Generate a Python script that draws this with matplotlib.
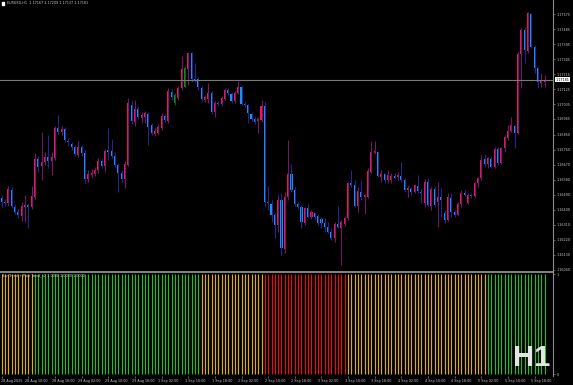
"""EURUSD H1 candles with a bar-trend histogram panel, MT4 dark style."""
import matplotlib
matplotlib.use("Agg")
import matplotlib.pyplot as plt
import numpy as np
import pandas as pd

# hourly bars, prices in points (1e-5)
open_pts = [
    116471, 116447, 116441, 116519, 116417, 116387, 116363, 116417, 116429, 116417,
    116477, 116705, 116663, 116687, 116717, 116693, 116711, 116891, 116867, 116885,
    116813, 116795, 116777, 116729, 116777, 116741, 116585, 116609, 116615, 116639,
    116693, 116663, 116759, 116753, 116723, 116669, 116621, 116585, 116669, 117029,
    116927, 117005, 116951, 116957, 116975, 116909, 116855, 116861, 116891, 116963,
    116933, 117107, 117089, 117071, 117131, 117251, 117245, 117341, 117185, 117185,
    117131, 117059, 117065, 117101, 116987, 117041, 117035, 117065, 117119, 117095,
    117053, 117101, 117137, 117035, 117029, 116975, 116945, 116933, 116939, 117023,
    116447, 116435, 116369, 116309, 116459, 116165, 116477, 116615, 116519, 116435,
    116417, 116321, 116411, 116357, 116381, 116363, 116345, 116321, 116297, 116267,
    116231, 116315, 116291, 116315, 116351, 116561, 116549, 116423, 116507, 116477,
    116477, 116627, 116741, 116747, 116597, 116615, 116579, 116579, 116603, 116597,
    116603, 116579, 116519, 116525, 116507, 116543, 116507, 116441, 116567, 116423,
    116525, 116447, 116477, 116381, 116339, 116471, 116387, 116369, 116435, 116501,
    116441, 116489, 116483, 116561, 116591, 116705, 116675, 116705, 116657, 116765,
    116681, 116771, 116831, 116873, 116903, 116861, 117335, 117479, 117353, 117575,
    117377, 117251, 117161, 117167,
]
high_pts = [
    116489, 116465, 116543, 116537, 116435, 116405, 116447, 116489, 116441, 116543,
    116741, 116723, 116867, 116747, 116849, 116747, 116903, 116969, 116903, 116897,
    116831, 116807, 116789, 116813, 116789, 116759, 116639, 116645, 116657, 116711,
    116705, 116765, 116891, 116825, 116747, 116681, 116639, 116693, 117071, 117059,
    117059, 117023, 116987, 116993, 116987, 116921, 116891, 116915, 116981, 116975,
    117131, 117125, 117101, 117143, 117323, 117263, 117347, 117347, 117281, 117197,
    117143, 117089, 117161, 117113, 117053, 117053, 117083, 117131, 117131, 117107,
    117113, 117173, 117149, 117047, 117035, 116987, 116957, 116957, 117059, 117047,
    116543, 116459, 116381, 116489, 116501, 116507, 116819, 116675, 116537, 116447,
    116429, 116417, 116435, 116399, 116387, 116375, 116357, 116351, 116327, 116291,
    116327, 116423, 116339, 116363, 116567, 116639, 116579, 116537, 116579, 116495,
    116651, 116813, 116813, 116753, 116639, 116621, 116639, 116621, 116621, 116627,
    116687, 116591, 116549, 116537, 116555, 116609, 116531, 116585, 116591, 116537,
    116543, 116567, 116531, 116399, 116501, 116501, 116399, 116447, 116519, 116519,
    116501, 116501, 116567, 116597, 116729, 116735, 116717, 116717, 116777, 116777,
    116777, 116849, 116909, 116957, 116909, 117347, 117491, 117497, 117587, 117581,
    117389, 117257, 117221, 117209,
]
low_pts = [
    116417, 116423, 116423, 116411, 116375, 116351, 116333, 116327, 116291, 116405,
    116465, 116627, 116579, 116669, 116651, 116609, 116699, 116849, 116849, 116807,
    116783, 116759, 116723, 116717, 116723, 116561, 116567, 116591, 116603, 116621,
    116651, 116627, 116699, 116711, 116657, 116507, 116567, 116531, 116663, 116915,
    116903, 116945, 116921, 116921, 116789, 116849, 116843, 116849, 116879, 116927,
    116921, 117059, 117029, 117059, 117119, 117131, 117149, 117167, 117167, 117119,
    117053, 117047, 117041, 116975, 116957, 117023, 117023, 117059, 117089, 117041,
    117041, 117095, 117029, 117017, 116921, 116933, 116915, 116861, 116927, 116417,
    116399, 116327, 116231, 116267, 116129, 116141, 116459, 116507, 116423, 116405,
    116291, 116309, 116351, 116345, 116339, 116309, 116291, 116267, 116261, 116219,
    116207, 116291, 116069, 116303, 116339, 116537, 116417, 116387, 116459, 116375,
    116471, 116621, 116735, 116597, 116567, 116561, 116561, 116561, 116585, 116579,
    116567, 116507, 116477, 116489, 116501, 116501, 116441, 116417, 116417, 116399,
    116417, 116297, 116357, 116321, 116333, 116357, 116357, 116363, 116417, 116483,
    116435, 116471, 116477, 116537, 116579, 116657, 116651, 116651, 116651, 116669,
    116675, 116747, 116819, 116867, 116771, 116855, 117131, 117281, 117341, 117371,
    117221, 117131, 117137, 117137,
]
close_pts = [
    116447, 116441, 116525, 116423, 116387, 116369, 116423, 116429, 116417, 116483,
    116705, 116657, 116687, 116717, 116693, 116717, 116891, 116867, 116885, 116819,
    116807, 116777, 116735, 116777, 116741, 116585, 116615, 116621, 116639, 116693,
    116663, 116753, 116747, 116723, 116669, 116621, 116585, 116675, 117041, 116933,
    117005, 116957, 116969, 116981, 116897, 116861, 116873, 116897, 116963, 116939,
    117113, 117077, 117041, 117131, 117245, 117137, 117341, 117185, 117179, 117137,
    117065, 117077, 117101, 116987, 117041, 117035, 117071, 117119, 117101, 117053,
    117101, 117137, 117035, 117029, 116981, 116945, 116927, 116945, 117023, 116447,
    116441, 116369, 116309, 116459, 116171, 116477, 116615, 116519, 116435, 116417,
    116327, 116411, 116357, 116387, 116357, 116321, 116321, 116297, 116267, 116231,
    116315, 116297, 116327, 116351, 116561, 116549, 116423, 116513, 116477, 116489,
    116633, 116747, 116753, 116603, 116615, 116579, 116609, 116603, 116591, 116609,
    116579, 116519, 116531, 116507, 116549, 116513, 116501, 116567, 116429, 116525,
    116429, 116477, 116459, 116339, 116477, 116387, 116369, 116435, 116501, 116489,
    116489, 116483, 116561, 116591, 116699, 116675, 116711, 116657, 116765, 116681,
    116771, 116837, 116873, 116909, 116861, 117335, 117479, 117359, 117581, 117377,
    117251, 117167, 117179, 117181,
]
green_bars = [52, 55]  # bars painted green on the chart

# indicator state per bar: G up, Y flat, R down
trend = "Y" * 10 + "G" * 50 + "Y" * 19 + "R" * 25 + "Y" * 42 + "G" * 18

price_ticks = [1.17575, 1.17485, 1.17395, 1.17305, 1.17215, 1.17125, 1.17035, 1.16945, 1.16850,
               1.16760, 1.16670, 1.16580, 1.16490, 1.16400, 1.16310, 1.16220, 1.16130, 1.16040]
bid = 1.17181
indicator_name = "Bar Trend + Past Trend_v2 1.0000 1.0000 1.0000"

times = pd.date_range("2025-08-28 02:00", "2025-08-29 23:00", freq="h").append(
    pd.date_range("2025-09-01 00:00", "2025-09-05 21:00", freq="h"))

W, H = 573, 385
FG = "#c8c8c8"
AXIS = "#8a8a8a"
BODY = {"bull": "#f5145f", "bear": "#1e90ff", "green": "#138a22"}
WICK = {"bull": "#6e1a66", "bear": "#1c2a8e", "green": "#0b5d12"}
TREND_COLORS = {"G": "#2cb82c", "Y": "#dcaa18", "R": "#e41010"}
SMALL = 2.4


def px(x0, y0, x1, y1):
    return [x0 / W, 1 - y1 / H, (x1 - x0) / W, (y1 - y0) / H]


def main() -> None:
    o, h, l, c = (np.array(a) / 1e5 for a in (open_pts, high_pts, low_pts, close_pts))
    x = np.arange(len(c))
    kind = np.where(np.isin(x, green_bars), "green", np.where(c >= o, "bull", "bear"))

    fig = plt.figure(figsize=(W / 100, H / 100), dpi=100, facecolor="black")
    ax = fig.add_axes(px(0, 0, 553, 271), facecolor="black")
    ax_i = fig.add_axes(px(0, 272, 553, 376), facecolor="black")

    # candles
    ax.vlines(x, l, h, colors=[WICK[k] for k in kind], linewidth=0.8)
    ax.bar(x, np.maximum(np.abs(c - o), 0.00007), bottom=np.minimum(o, c), width=0.62,
           color=[BODY[k] for k in kind], linewidth=0)
    ax.axhline(bid, color="#7a7a7a", lw=0.8)

    ax.set_xlim(-0.5, 165.5)
    ax.set_ylim(1.16033, 1.17659)
    ax.set_xticks([])
    ax.yaxis.tick_right()
    ax.set_yticks(price_ticks, [f"{v:.5f}" for v in price_ticks])
    ax.tick_params(axis="y", direction="out", length=1.5, width=0.5, color=AXIS,
                   labelsize=SMALL, labelcolor=FG, pad=1)
    for side in ("top", "bottom", "left"):
        ax.spines[side].set_visible(False)
    ax.spines["right"].set_color(AXIS)
    ax.spines["right"].set_linewidth(0.8)
    ax.text(1.004, bid, f"{bid:.5f}", transform=ax.get_yaxis_transform(), fontsize=SMALL,
            color="black", va="center", ha="left",
            bbox=dict(boxstyle="square,pad=0.2", fc="white", ec="none"))

    # trend histogram
    ax_i.vlines(x, 0, 1, colors=[TREND_COLORS[t] for t in trend], linewidth=0.85)
    ax_i.set_xlim(-0.5, 165.5)
    ax_i.set_ylim(-0.02, 1.02)
    ax_i.yaxis.tick_right()
    ax_i.set_yticks([0, 1], ["0", "1"])
    ax_i.tick_params(axis="y", direction="out", length=1.5, width=0.5, color=AXIS,
                     labelsize=SMALL, labelcolor=FG, pad=1)
    for side in ("bottom", "left"):
        ax_i.spines[side].set_visible(False)
    ax_i.spines["right"].set_color(AXIS)
    ax_i.spines["right"].set_linewidth(0.8)
    ax_i.spines["top"].set_color("#9a9a9a")
    ax_i.spines["top"].set_linewidth(1.2)
    ax_i.text(0.004, 0.985, indicator_name, transform=ax_i.transAxes, fontsize=SMALL,
              color=FG, va="top", ha="left")

    # time axis
    marks = [i for i, t in enumerate(times) if t.hour in (2, 10, 18)]
    ax_i.set_xticks(marks, [])
    ax_i.tick_params(axis="x", direction="out", length=1.5, width=0.5, color=AXIS)
    for i in marks:
        t = times[i]
        label = f"{t.day} {t:%b} {t.year}" if i == 0 else f"{t.day} {t:%b} {t:%H:%M}"
        ax_i.text(max(i - 1.0, -0.25), -0.03, label, transform=ax_i.get_xaxis_transform(),
                  fontsize=SMALL, color=FG, va="top", ha="left")

    last = len(c) - 1
    fig.text(7 / W, 1 - 3.5 / H,
             f"EURUSD,H1  {o[last]:.5f} {h[last]:.5f} {l[last]:.5f} {c[last]:.5f}",
             fontsize=SMALL, color=FG, va="center", ha="left")
    fig.add_artist(plt.Rectangle((1.5 / W, 1 - 5 / H), 2.5 / W, 3 / H,
                                 transform=fig.transFigure, color="white"))
    fig.text(550 / W, 1 - 366 / H, "H1", ha="right", va="baseline", fontsize=21,
             fontweight="bold", family="Liberation Sans", color="#e4e4e4")

    fig.savefig("out.png", dpi=100, facecolor="black")
    plt.close(fig)


if __name__ == "__main__":
    main()
